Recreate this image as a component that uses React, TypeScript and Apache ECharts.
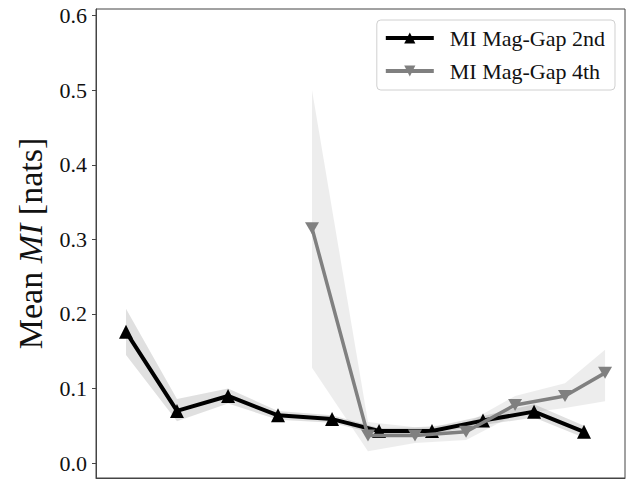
import React, { useEffect, useRef } from "react";
import * as echarts from "echarts";

// ---- data ----
const seriesNames = ["MI Mag-Gap 2nd", "MI Mag-Gap 4th"];

const x2nd = [0.289, 0.78, 1.272, 1.753, 2.274, 2.727, 3.237, 3.728, 4.22, 4.701];
const mean2nd = [0.176, 0.07, 0.09, 0.064, 0.059, 0.043, 0.043, 0.057, 0.069, 0.042];
const lo2nd = [0.145, 0.056, 0.08, 0.058, 0.054, 0.038, 0.039, 0.051, 0.061, 0.034];
const hi2nd = [0.207, 0.086, 0.1, 0.07, 0.064, 0.047, 0.048, 0.063, 0.079, 0.05];

const x4th = [2.081, 2.62, 3.073, 3.565, 4.037, 4.518, 4.904];
const mean4th = [0.315, 0.037, 0.037, 0.042, 0.078, 0.09, 0.121];
const lo4th = [0.128, 0.016, 0.027, 0.031, 0.065, 0.074, 0.083];
const hi4th = [0.5, 0.055, 0.048, 0.053, 0.09, 0.107, 0.152];

const yTicks = [0.0, 0.1, 0.2, 0.3, 0.4, 0.5, 0.6];
const xTicks = [0, 1, 2, 3, 4, 5];

const FONT = "Liberation Serif";
const DOWN_TRI = "path://M0,0 L20,0 L10,17.3 Z";

function bandSeries(xs: number[], lo: number[], hi: number[], color: string, z: number) {
  return {
    type: "custom",
    silent: true,
    z,
    clip: true,
    data: xs.map((x, i) => [x, lo[i], hi[i]]),
    encode: { x: 0, y: [1, 2] },
    renderItem: (params: any, api: any) => {
      if (params.dataIndex !== 0) return null;
      const pts: number[][] = [];
      for (let i = 0; i < xs.length; i++) pts.push(api.coord([xs[i], lo[i]]));
      for (let i = xs.length - 1; i >= 0; i--) pts.push(api.coord([xs[i], hi[i]]));
      return {
        type: "polygon",
        shape: { points: pts },
        style: { fill: color, stroke: null },
      };
    },
  };
}

export default function App() {
  const ref = useRef<HTMLDivElement>(null);
  useEffect(() => {
    if (!ref.current) return;
    const chart = echarts.init(ref.current, null, { renderer: "svg" });
    chart.setOption({
      animation: false,
      backgroundColor: "#ffffff",
      textStyle: { fontFamily: FONT },
      grid: {
        left: 96,
        top: 9,
        right: 3,
        bottom: 1,
        show: true,
        borderColor: "#444",
        borderWidth: 1,
      },
      legend: {
        orient: "vertical",
        right: 13,
        top: 20,
        padding: [7, 10, 8, 7],
        itemWidth: 48,
        itemHeight: 14,
        itemGap: 11,
        borderColor: "#d0d0d0",
        borderWidth: 1,
        borderRadius: 4,
        backgroundColor: "rgba(255,255,255,0.85)",
        lineStyle: { width: 4 },
        data: seriesNames,
        textStyle: {
          fontFamily: FONT,
          fontSize: 22,
          color: "#111",
          padding: [0, 0, 0, 11],
        },
      },
      xAxis: {
        type: "value",
        min: 0,
        max: 5.096,
        interval: 1,
        axisLine: { show: true, onZero: false, lineStyle: { color: "#444", width: 1 } },
        axisTick: { show: true, length: 4, lineStyle: { color: "#444" }, customValues: xTicks },
        axisLabel: { show: false },
        splitLine: { show: false },
      },
      yAxis: {
        type: "value",
        min: -0.02,
        max: 0.609,
        axisLine: { show: true, onZero: false, lineStyle: { color: "#444", width: 1 } },
        axisTick: {
          show: true,
          length: 4,
          lineStyle: { color: "#444" },
          customValues: yTicks,
        },
        axisLabel: {
          show: true,
          customValues: yTicks,
          formatter: (v: number) => v.toFixed(1),
          fontFamily: FONT,
          fontSize: 22,
          color: "#111",
          margin: 9,
        },
        splitLine: { show: false },
        name: "Mean {i|MI} [nats]",
        nameLocation: "middle",
        nameRotate: 90,
        nameGap: 49,
        nameTextStyle: {
          fontFamily: FONT,
          fontSize: 34,
          color: "#111",
          rich: {
            i: { fontFamily: FONT, fontSize: 34, fontStyle: "italic", color: "#111" },
          },
        },
      },
      series: [
        bandSeries(x2nd, lo2nd, hi2nd, "rgba(0,0,0,0.12)", 1),
        bandSeries(x4th, lo4th, hi4th, "rgba(128,128,128,0.14)", 1),
        {
          name: seriesNames[0],
          type: "line",
          z: 3,
          data: x2nd.map((x, i) => [x, mean2nd[i]]),
          symbol: "triangle",
          symbolSize: 14,
          showSymbol: true,
          color: "#000",
          lineStyle: { color: "#000", width: 4 },
          itemStyle: { color: "#000" },
        },
        {
          name: seriesNames[1],
          type: "line",
          z: 4,
          data: x4th.map((x, i) => [x, mean4th[i]]),
          symbol: DOWN_TRI,
          symbolSize: [14, 12],
          showSymbol: true,
          color: "#808080",
          lineStyle: { color: "#808080", width: 3.5 },
          itemStyle: { color: "#808080" },
        },
      ],
    });
    return () => chart.dispose();
  }, []);
  return (
    <div
      ref={ref}
      style={{ position: "fixed", left: 0, top: 0, width: 628, height: 479, background: "#fff" }}
    />
  );
}
